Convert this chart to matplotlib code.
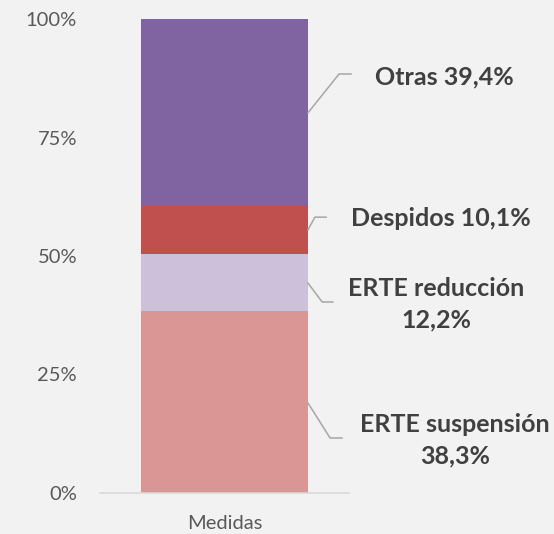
import matplotlib
matplotlib.use("Agg")
import matplotlib.pyplot as plt

# data (shares of "Medidas", %)
category = "Medidas"
segments = ["ERTE suspensión", "ERTE reducción", "Despidos", "Otras"]
values = [38.3, 12.2, 10.1, 39.4]
colors = ["#DA9694", "#CCC0DA", "#C0504D", "#8064A2"]
yticks = [0, 25, 50, 75, 100]
ytick_labels = ["0%", "25%", "50%", "75%", "100%"]

# label layout: (anchor y on bar, elbow x, elbow y, end x, text x, text y, text)
labels = [
    (19.0, 0.424, 11.6, 0.472, 0.925, 11.2, "ERTE suspensión\n38,3%"),
    (44.3, 0.392, 40.3, 0.435, 0.851, 39.9, "ERTE reducción\n12,2%"),
    (55.5, 0.363, 58.2, 0.408, 0.868, 58.0, "Despidos 10,1%"),
    (80.2, 0.460, 88.4, 0.508, 0.882, 87.8, "Otras 39,4%"),
]

plt.rcParams["font.family"] = ["Lato", "DejaVu Sans"]
bg = "#F2F2F2"

fig = plt.figure(figsize=(5.54, 5.34), dpi=100, facecolor=bg)
ax = fig.add_axes([0.1805, 0.0768, 0.4495, 0.8876], facecolor=bg)

bottom = 0
for v, c in zip(values, colors):
    ax.bar(0, v, width=0.67, bottom=bottom, color=c, zorder=2)
    bottom += v

edge = 0.335
for ay, ex, ey, endx, tx, ty, txt in labels:
    ax.plot([edge, ex, endx], [ay, ey, ey], color="#A6A6A6", lw=1.1,
            clip_on=False, zorder=3)
    ax.text(tx, ty, txt, ha="center", va="center", fontsize=18,
            fontweight="bold", color="#404040", linespacing=1.45,
            clip_on=False)

ax.set_xlim(-0.5, 0.5)
ax.set_ylim(0, 100)
ax.set_yticks(yticks)
ax.set_yticklabels(ytick_labels)
ax.set_xticks([0])
ax.set_xticklabels([category])
ax.tick_params(axis="both", length=0, labelsize=14.5, colors="#595959")
ax.tick_params(axis="y", pad=16.5)
ax.tick_params(axis="x", pad=16)
for s in ["left", "right", "top"]:
    ax.spines[s].set_visible(False)
ax.spines["bottom"].set_color("#D9D9D9")
ax.spines["bottom"].set_linewidth(1.2)

fig.savefig("out.png", dpi=100, facecolor=bg)
